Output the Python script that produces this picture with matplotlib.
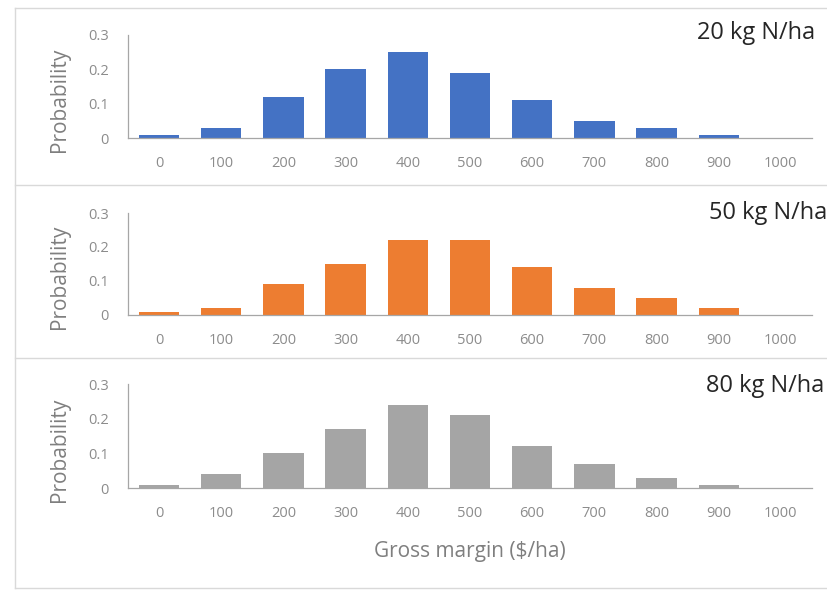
import matplotlib
matplotlib.use("Agg")
import matplotlib.pyplot as plt
from matplotlib.lines import Line2D

plt.rcParams['font.family'] = ['Open Sans', 'DejaVu Sans']

categories = ["0", "100", "200", "300", "400", "500", "600", "700", "800", "900", "1000"]
p20 = [0.01, 0.03, 0.12, 0.20, 0.25, 0.19, 0.11, 0.05, 0.03, 0.01, 0.0]
p50 = [0.01, 0.02, 0.09, 0.15, 0.22, 0.22, 0.14, 0.08, 0.05, 0.02, 0.0]
p80 = [0.01, 0.04, 0.10, 0.17, 0.24, 0.21, 0.12, 0.07, 0.03, 0.01, 0.0]
titles = ["20 kg N/ha", "50 kg N/ha", "80 kg N/ha"]
colors = ["#4472C4", "#ED7D31", "#A5A5A5"]
yticks = [0, 0.1, 0.2, 0.3]
ytick_labels = ["0", "0.1", "0.2", "0.3"]

W, H = 828, 592
fig = plt.figure(figsize=(W / 100, H / 100), dpi=100)

def fx(px):
    return px / W

def fy(py):
    return 1 - py / H

# panel extents in pixels: (top, bottom)
panels = [(35, 138), (213, 315), (384, 488)]
left_px, right_px = 128, 812
title_pos = [(697, 33), (709, 213), (706, 386)]

for i, (vals, (top, bot)) in enumerate(zip([p20, p50, p80], panels)):
    ax = fig.add_axes([fx(left_px), fy(bot), fx(right_px - left_px), (bot - top) / H])
    x = list(range(len(categories)))
    ax.bar(x, vals, width=0.65, color=colors[i])
    ax.set_xlim(-0.5, len(categories) - 0.5)
    ax.set_ylim(0, 0.3)
    ax.set_yticks(yticks)
    ax.set_yticklabels(ytick_labels)
    ax.set_xticks(x)
    ax.set_xticklabels(categories)
    ax.tick_params(axis='both', length=0, labelsize=10.5, labelcolor='#8c8c8c')
    ax.tick_params(axis='x', pad=13)
    ax.tick_params(axis='y', pad=14)
    for s in ['top', 'right']:
        ax.spines[s].set_visible(False)
    ax.spines['left'].set_color('#a6a6a6')
    ax.spines['bottom'].set_color('#a6a6a6')
    ax.spines['left'].set_linewidth(0.9)
    ax.spines['bottom'].set_linewidth(0.9)
    yc = bot - 0.37 * (bot - top)
    fig.text(fx(60), fy(yc), "Probability", fontsize=15, color='#7f7f7f',
             rotation=90, ha='center', va='center')
    tx, ty = title_pos[i]
    fig.text(fx(tx), fy(ty), titles[i], fontsize=17, color='#262626', ha='left', va='center')

fig.text(fx(470), fy(552), "Gross margin ($/ha)", fontsize=15, color='#7f7f7f', ha='center', va='center')

# panel separators and border
border = '#d9d9d9'
for yy in [8, 185, 358, 588]:
    fig.add_artist(Line2D([fx(15), 1], [fy(yy), fy(yy)], color=border, lw=1))
fig.add_artist(Line2D([fx(15), fx(15)], [fy(8), fy(588)], color=border, lw=1))

fig.savefig("out.png", dpi=100)
